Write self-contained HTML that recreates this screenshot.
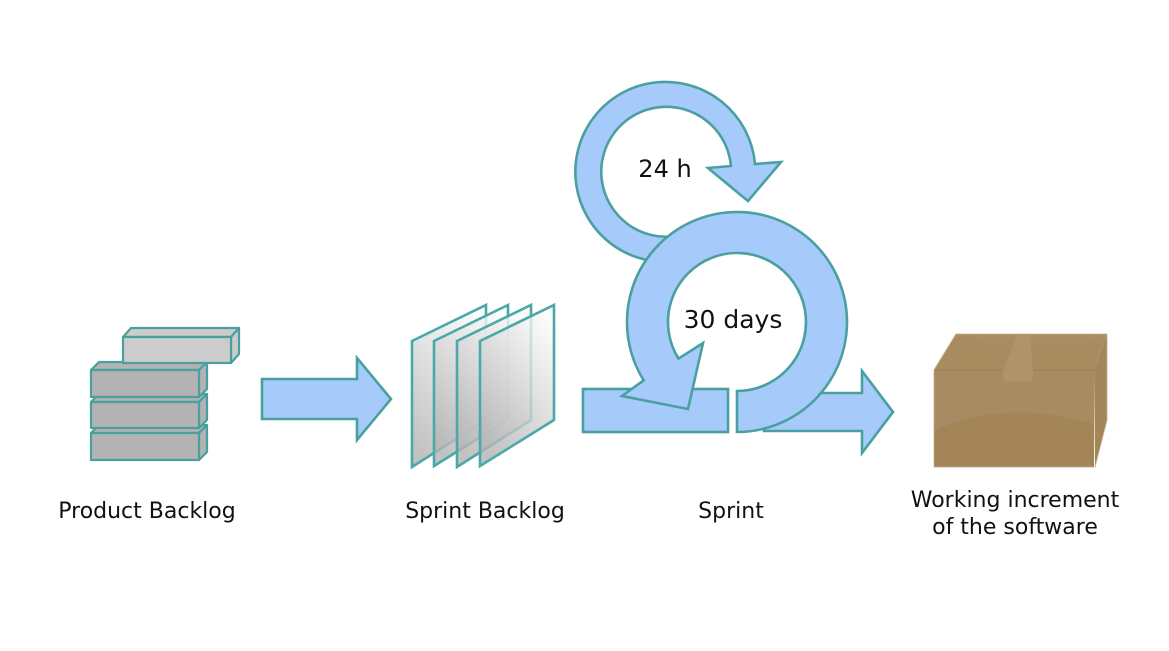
<!DOCTYPE html>
<html>
<head>
<meta charset="utf-8">
<style>
  html, body { margin: 0; padding: 0; background: #ffffff; }
  svg { display: block; }
  text { font-family: "DejaVu Sans", "Liberation Sans", sans-serif; fill: #111; }
</style>
</head>
<body>
<svg width="1169" height="651" viewBox="0 0 1169 651" xmlns="http://www.w3.org/2000/svg">
  <defs>
    <linearGradient id="sheet" x1="0.75" y1="0" x2="0.25" y2="1">
      <stop offset="0" stop-color="#fbfbfb"/>
      <stop offset="1" stop-color="#b2b2b2"/>
    </linearGradient>
  </defs>
  <rect width="1169" height="651" fill="#ffffff"/>

  <!-- Product Backlog bricks -->
  <g stroke="#4aa0a0" stroke-width="2.2" stroke-linejoin="round">
    <polygon points="91,433 99,425 207,425 199,433" fill="#b3b3b3"/>
    <polygon points="199,433 207,425 207,452 199,460" fill="#b3b3b3"/>
    <rect x="91" y="433" width="108" height="27" fill="#b3b3b3"/>
    <polygon points="91,402 99,394 207,394 199,402" fill="#b3b3b3"/>
    <polygon points="199,402 207,394 207,420 199,428" fill="#b3b3b3"/>
    <rect x="91" y="402" width="108" height="26" fill="#b3b3b3"/>
    <polygon points="91,370 99,362 207,362 199,370" fill="#b3b3b3"/>
    <polygon points="199,370 207,362 207,389 199,397" fill="#b3b3b3"/>
    <rect x="91" y="370" width="108" height="27" fill="#b3b3b3"/>
    <polygon points="123,337 131,328 239,328 231,337" fill="#cccccc"/>
    <polygon points="231,337 239,328 239,354 231,363" fill="#cccccc"/>
    <rect x="123" y="337" width="108" height="26" fill="#cccccc"/>
  </g>

  <!-- Arrow 1 -->
  <polygon points="262,379 357,379 357,358 391,399 357,440 357,419 262,419"
           fill="#a6cafa" stroke="#4aa0a0" stroke-width="2.6" stroke-linejoin="miter"/>

  <!-- Sprint Backlog sheets -->
  <g stroke="#4aa8a8" stroke-width="2.6" stroke-linejoin="miter">
    <polygon points="412,341 486,305 486,420 412,467" fill="url(#sheet)" fill-opacity="0.8"/>
    <polygon points="434,341 508,305 508,420 434,466" fill="url(#sheet)" fill-opacity="0.8"/>
    <polygon points="457,341 531,305 531,420 457,467" fill="url(#sheet)" fill-opacity="0.8"/>
    <polygon points="480,341 554,305 554,420 480,466" fill="url(#sheet)" fill-opacity="0.8"/>
  </g>

  <!-- 24h ring -->
  <path d="M680.6,260.6 A90,90 0 1 1 755,164 L781,162 L748,201 L708,168 L731,166 A65,65 0 1 0 676.3,236 Z"
        fill="#a6cafa" stroke="#4aa0a0" stroke-width="2.6" stroke-linejoin="miter"/>

  <!-- Sprint left bar -->
  <rect x="583" y="389" width="145" height="43" fill="#a6cafa" stroke="#4aa0a0" stroke-width="2.6"/>

  <!-- Sprint right arrow -->
  <polygon points="764,393 862,393 862,371 893,412 862,453 862,431 764,431"
           fill="#a6cafa" stroke="#4aa0a0" stroke-width="2.6" stroke-linejoin="miter"/>

  <!-- 30 days ring -->
  <path d="M737,432 A110,110 0 1 0 643.7,380.3 L622,396 L688,409 L703,343 L678.5,358.6 A69,69 0 1 1 737,391 Z"
        fill="#a6cafa" stroke="#4aa0a0" stroke-width="2.6" stroke-linejoin="miter"/>

  <text x="665" y="177" font-size="24" text-anchor="middle">24 h</text>
  <text x="733" y="328" font-size="25" text-anchor="middle">30 days</text>

  <!-- Box -->
  <g>
    <polygon points="934,370 956,334 1107,334 1094,370" fill="#a98b60"/>
    <polygon points="1094,370 1107,334 1107,420 1095,467" fill="#a3865a"/>
    <rect x="934" y="370" width="160" height="97" fill="#a98b63"/>
    <path d="M934,431 Q1000,398 1094,424 L1094,467 L934,467 Z" fill="#a38557"/>
    <path d="M956,334 Q1020,356 1107,338 L1107,334 Z" fill="#ad9068" opacity="0.5"/>
    <line x1="934" y1="370" x2="1094" y2="370" stroke="#9d7f55" stroke-width="1"/>
    <polygon points="1018,334 1030,334 1033,370 1032,382 1028,380 1024,382 1020,380 1016,382 1012,380 1007,382 1003,380 1003,370"
             fill="#b49a72" opacity="0.55"/>
    <polygon points="934,370 956,334 1107,334 1107,420 1095,467 934,467"
             fill="none" stroke="#c2aa84" stroke-width="1.2" opacity="0.6"/>
  </g>

  <!-- Labels -->
  <text x="147" y="518" font-size="22" text-anchor="middle">Product Backlog</text>
  <text x="485" y="518" font-size="22" text-anchor="middle">Sprint Backlog</text>
  <text x="731" y="518" font-size="22" text-anchor="middle">Sprint</text>
  <text x="1015" y="507" font-size="22" text-anchor="middle">Working increment</text>
  <text x="1015" y="534" font-size="22" text-anchor="middle">of the software</text>
</svg>
</body>
</html>
